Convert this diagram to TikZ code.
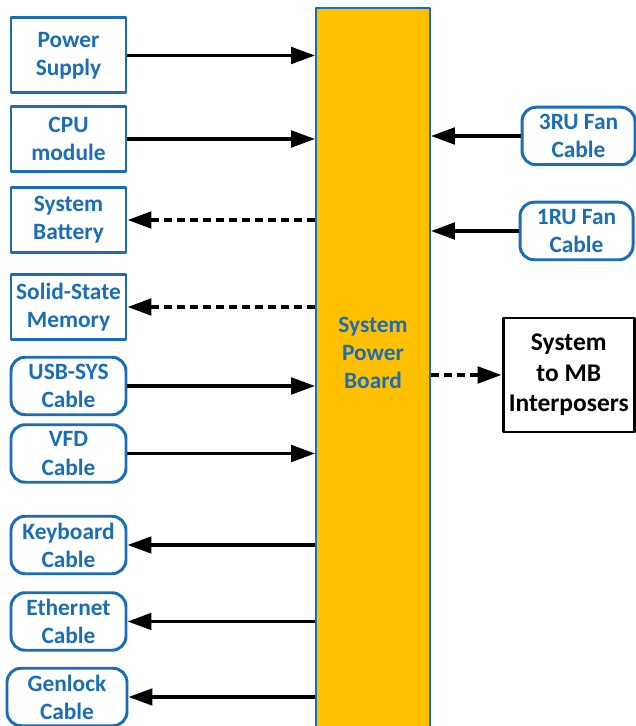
\documentclass[tikz,border=0pt]{standalone}
\usepackage{fontspec}
\setmainfont{Carlito}[BoldFont={Carlito Bold}]
\usetikzlibrary{arrows.meta}
\definecolor{spbblue}{HTML}{1A6DB8}
\definecolor{spborange}{HTML}{FFC000}
\tikzset{
  sqbox/.style={draw=spbblue, line width=1.7pt, text=spbblue, minimum width=2.3cm,
    minimum height=1.3cm, align=center, inner sep=1pt},
  rdbox/.style={sqbox, rounded corners=0.28cm, minimum height=1.15cm},
  link/.style={line width=2pt, -{Triangle[length=0.48cm,width=0.33cm]}},
  dlink/.style={link, line width=2.2pt, dash pattern=on 0.16cm off 0.1cm},
}
\begin{document}
\begin{tikzpicture}[font=\fontsize{13.3}{16}\selectfont\bfseries, line join=round]
    \useasboundingbox (0,0) rectangle (12.7,14.52);
    \def\lx{1.37}
    % board
    \node[draw=spbblue, line width=1pt, fill=spborange, minimum width=2.28cm,
      minimum height=14.66cm, inner sep=0pt] (spb) at (7.46,7.03) {};
    \node[text=spbblue, align=center] (spbtxt) at (7.46,7.46) {System\\Power\\Board};
    % left side
    \node[sqbox, minimum height=1.5cm] (ps) at (\lx,13.41) {Power\\Supply};
    \foreach \n/\y/\t in {cpu/11.74/{CPU\\module}, bat/10.12/{System\\Battery},
      ssm/8.38/{Solid-State\\Memory}}
      \node[sqbox] (\n) at (\lx,\y) {\t};
    \foreach \n/\y/\t in {usb/6.80/{USB-SYS\\Cable}, vfd/5.45/{VFD\\Cable},
      kbd/3.62/{Keyboard\\Cable}, eth/2.09/{Ethernet\\Cable}}
      \node[rdbox] (\n) at (\lx,\y) {\t};
    \node[rdbox, minimum width=2.4cm] (gen) at (1.34,0.58) {Genlock\\Cable};
    % right side
    \node[rdbox, minimum width=2.26cm] (fan3) at (11.57,11.8) {3RU Fan\\Cable};
    \node[rdbox, minimum width=2.26cm] (fan1) at (11.53,9.9) {1RU Fan\\Cable};
    \node[draw, line width=1.7pt, minimum width=2.63cm, minimum height=2.28cm,
      align=center, inner sep=1pt, font=\fontsize{14.5}{17.4}\selectfont\bfseries]
      (mbi) at (11.375,7.02) {System\\to MB\\Interposers};
    % connectors
    \foreach \n in {ps,cpu,usb,vfd} \draw[link] (\n.east) -- (\n.east -| spb.west);
    \foreach \n in {kbd,eth,gen} \draw[link] (\n.east -| spb.west) -- (\n.east);
    \foreach \n in {bat,ssm} \draw[dlink] (\n.east -| spb.west) -- (\n.east);
    \foreach \n in {fan3,fan1} \draw[link] (\n.west) -- (\n.west -| spb.east);
    \draw[dlink] (mbi.west -| spb.east) -- (mbi.west);
\end{tikzpicture}
\end{document}
